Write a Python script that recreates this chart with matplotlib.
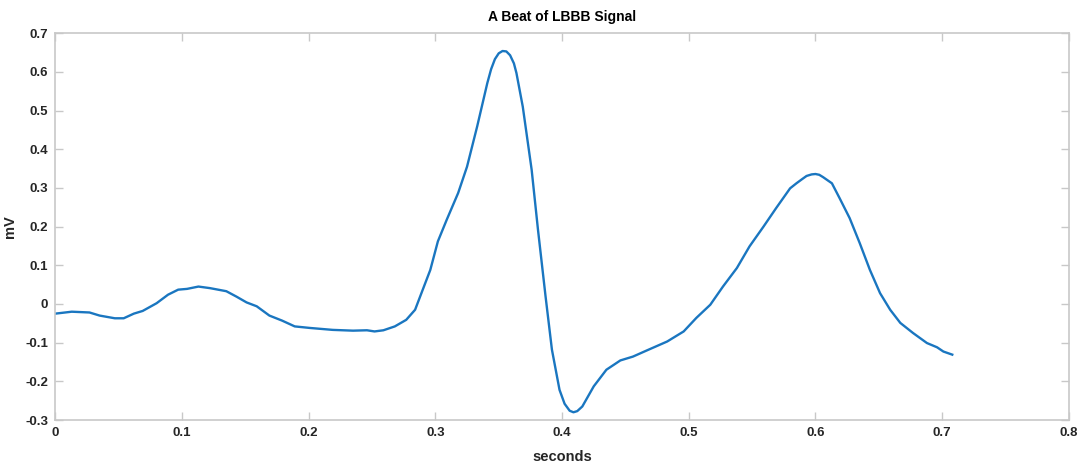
import matplotlib.pyplot as plt

# beat samples (seconds, mV)
t = [0.000, 0.013, 0.027, 0.035, 0.047, 0.054, 0.062, 0.069, 0.080, 0.089,
     0.097, 0.104, 0.113, 0.122, 0.135, 0.143, 0.151, 0.159, 0.169, 0.179,
     0.189, 0.201, 0.219, 0.235, 0.246, 0.252, 0.259, 0.268, 0.277, 0.284,
     0.289, 0.296, 0.302, 0.309, 0.318, 0.325, 0.333, 0.341, 0.344, 0.347,
     0.350, 0.353, 0.356, 0.359, 0.362, 0.364, 0.369, 0.376, 0.381, 0.387,
     0.392, 0.398, 0.402, 0.406, 0.409, 0.412, 0.416, 0.425, 0.435, 0.446,
     0.456, 0.467, 0.483, 0.496, 0.506, 0.517, 0.527, 0.538, 0.548, 0.559,
     0.569, 0.580, 0.585, 0.590, 0.593, 0.597, 0.600, 0.603, 0.606, 0.613,
     0.619, 0.627, 0.635, 0.643, 0.651, 0.659, 0.667, 0.677, 0.688, 0.696,
     0.701, 0.708]
mv = [-0.025, -0.020, -0.022, -0.030, -0.037, -0.037, -0.025, -0.018, 0.002, 0.024,
      0.037, 0.039, 0.045, 0.041, 0.033, 0.019, 0.004, -0.006, -0.030, -0.043,
      -0.058, -0.062, -0.067, -0.069, -0.068, -0.071, -0.068, -0.058, -0.041, -0.015,
      0.028, 0.088, 0.162, 0.218, 0.287, 0.355, 0.459, 0.571, 0.607, 0.633,
      0.648, 0.654, 0.653, 0.643, 0.622, 0.597, 0.510, 0.347, 0.192, 0.019,
      -0.118, -0.222, -0.258, -0.276, -0.280, -0.277, -0.265, -0.213, -0.170, -0.146,
      -0.136, -0.120, -0.097, -0.071, -0.036, -0.002, 0.045, 0.093, 0.149, 0.200,
      0.248, 0.299, 0.312, 0.324, 0.331, 0.335, 0.336, 0.334, 0.328, 0.312,
      0.274, 0.222, 0.157, 0.088, 0.028, -0.015, -0.049, -0.075, -0.101, -0.112,
      -0.123, -0.131]

xticks = [0, 0.1, 0.2, 0.3, 0.4, 0.5, 0.6, 0.7, 0.8]
xlabels = ['0', '0.1', '0.2', '0.3', '0.4', '0.5', '0.6', '0.7', '0.8']
yticks = [-0.3, -0.2, -0.1, 0, 0.1, 0.2, 0.3, 0.4, 0.5, 0.6, 0.7]
ylabels = ['-0.3', '-0.2', '-0.1', '0', '0.1', '0.2', '0.3', '0.4', '0.5', '0.6', '0.7']

plt.rcParams['font.family'] = ['Liberation Sans', 'DejaVu Sans']
plt.rcParams['font.weight'] = 'bold'

fig = plt.figure(figsize=(10.84, 4.66), dpi=100)
ax = fig.add_axes([0.051, 0.0987, 0.935, 0.83])
ax.plot(t, mv, color='#1a76c0', lw=1.7, solid_joinstyle='round')

ax.set_xlim(0, 0.8)
ax.set_ylim(-0.3, 0.7)
ax.set_xticks(xticks)
ax.set_xticklabels(xlabels)
ax.set_yticks(yticks)
ax.set_yticklabels(ylabels)

grey = '#c8c8c8'
for s in ax.spines.values():
    s.set_color(grey)
    s.set_linewidth(1.2)
ax.tick_params(direction='in', length=6, width=1.0, color=grey, labelcolor='#262626',
               labelsize=9.5, top=True, right=True, pad=5)

ax.set_title('A Beat of LBBB Signal', fontsize=10, fontweight='bold', color='#000000', pad=9)
ax.set_xlabel('seconds', fontsize=10.5, fontweight='bold', color='#262626', labelpad=8)
ax.set_ylabel('mV', fontsize=10.5, fontweight='bold', color='#262626', labelpad=6)

fig.savefig('out.png', dpi=100)
